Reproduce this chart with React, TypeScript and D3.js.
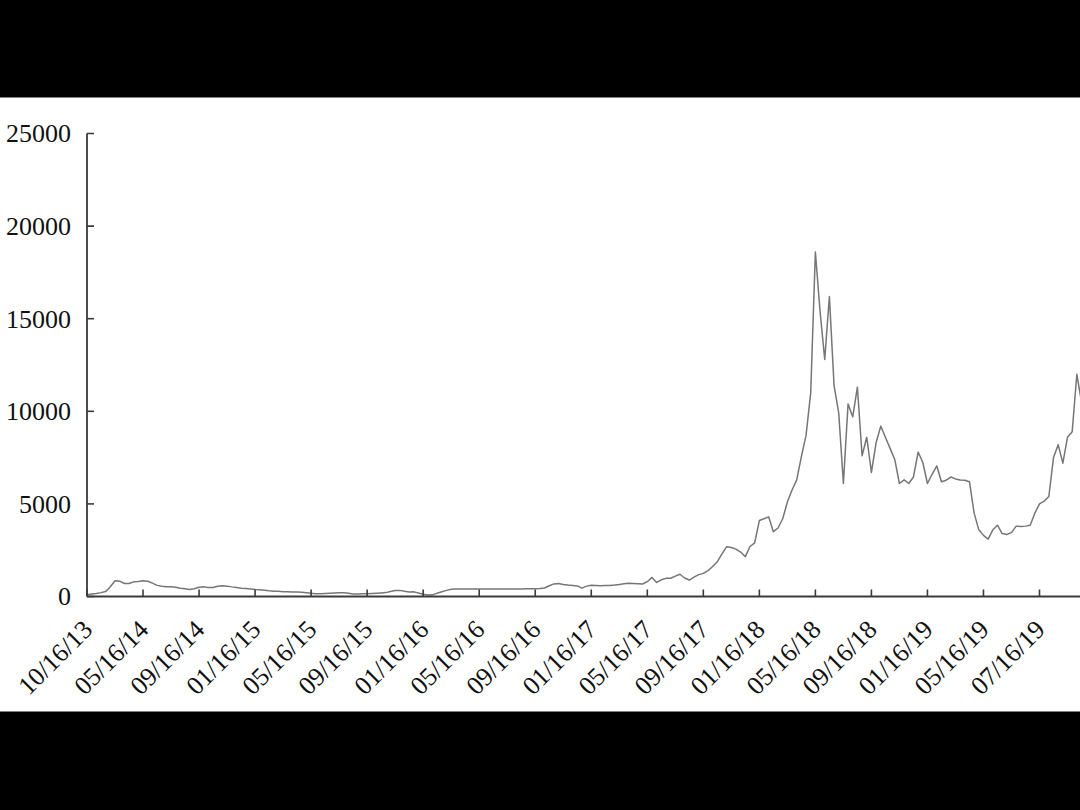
import React from "react";
import * as d3 from "d3";

const tickLabels: string[] = [
  "10/16/13", "05/16/14", "09/16/14", "01/16/15", "05/16/15", "09/16/15",
  "01/16/16", "05/16/16", "09/16/16", "01/16/17", "05/16/17", "09/16/17",
  "01/16/18", "05/16/18", "09/16/18", "01/16/19", "05/16/19", "07/16/19",
];
const pointsPerTick = 12;
const yTicks: number[] = [0, 5000, 10000, 15000, 20000, 25000];

const prices: number[] = [
  // 10/16/13 ->
  100, 130, 160, 210, 270, 530, 850, 830, 700, 700, 790, 810,
  // 05/16/14 ->
  850, 820, 720, 600, 550, 530, 520, 500, 450, 420, 380, 420,
  // 09/16/14 ->
  500, 520, 480, 490, 550, 580, 560, 520, 490, 450, 430, 410,
  // 01/16/15 ->
  380, 360, 340, 310, 290, 280, 260, 250, 245, 240, 225, 200,
  // 05/16/15 ->
  170, 155, 150, 160, 175, 190, 200, 205, 170, 135, 140, 145,
  // 09/16/15 ->
  150, 165, 180, 195, 210, 270, 320, 330, 280, 240, 250, 190,
  // 01/16/16 ->
  120, 85, 90, 180, 260, 330, 390, 400, 405, 405, 408, 405,
  // 05/16/16 ->
  405, 410, 405, 405, 408, 405, 405, 410, 408, 410, 412, 415,
  // 09/16/16 ->
  420, 430, 460, 580, 680, 700, 650, 620, 600, 570, 450, 560,
  // 01/16/17 ->
  610, 600, 580, 590, 600, 620, 650, 690, 710, 700, 690, 675,
  // 05/16/17 ->
  800, 1030, 760, 900, 980, 985, 1100, 1200, 1000, 890, 1050, 1180,
  // 09/16/17 ->
  1250, 1400, 1620, 1880, 2300, 2690, 2650, 2560, 2400, 2150, 2700, 2900,
  // 01/16/18 ->
  4100, 4200, 4300, 3500, 3700, 4200, 5100, 5750, 6300, 7550, 8700, 11000,
  // 05/16/18 ->
  18600, 15400, 12800, 16200, 11400, 9900, 6100, 10400, 9700, 11300, 7600, 8600,
  // 09/16/18 ->
  6700, 8300, 9200, 8600, 8000, 7400, 6100, 6300, 6100, 6450, 7800, 7250,
  // 01/16/19 ->
  6100, 6600, 7050, 6200, 6280, 6450, 6350, 6290, 6280, 6200, 4500, 3600,
  // 05/16/19 ->
  3300, 3100, 3600, 3850, 3400, 3350, 3450, 3800, 3780, 3800, 3850, 4500,
  // 07/16/19 ->
  5000, 5150, 5400, 7500, 8200, 7200, 8600, 8900, 12000, 10500,
];

const W = 1080;
const H = 810;
const plotTop = 97.5;
const plotBottom = 711.5;

export default function App() {
  const lastTickIdx = (tickLabels.length - 1) * pointsPerTick;
  const x = d3.scaleLinear().domain([0, lastTickIdx]).range([87, 1039.5]);
  const y = d3.scaleLinear().domain([0, 25000]).range([596.5, 133.5]);

  const line = d3
    .line<number>()
    .x((_, i) => x(i))
    .y((d) => y(d))
    .curve(d3.curveLinear);

  const font = "'Liberation Serif', 'Times New Roman', 'DejaVu Serif', serif";
  const axisColor = "#3a3a3a";

  return (
    <div style={{ position: "fixed", left: 0, top: 0, width: W, height: H }}>
      <svg width={W} height={H} style={{ display: "block" }}>
        <defs>
          <clipPath id="plotclip">
            <rect x={0} y={plotTop} width={W} height={plotBottom - plotTop} />
          </clipPath>
        </defs>
        <rect x={0} y={0} width={W} height={H} fill="#000" />
        <rect x={0} y={plotTop} width={W} height={plotBottom - plotTop} fill="#fff" />

        <g clipPath="url(#plotclip)">
          <path
            d={line(prices) || ""}
            fill="none"
            stroke="#767676"
            strokeWidth={1.5}
            strokeLinejoin="round"
          />

          {/* Y axis */}
          <line x1={x(0)} x2={x(0)} y1={y(25000)} y2={y(0)} stroke={axisColor} strokeWidth={1.8} />
          {yTicks.map((t) => (
            <g key={t}>
              <line x1={x(0)} x2={x(0) + 7} y1={y(t)} y2={y(t)} stroke={axisColor} strokeWidth={1.6} />
              <text
                x={71}
                y={y(t)}
                dy="0.34em"
                textAnchor="end"
                fontFamily={font}
                fontSize={26}
                fill="#111"
              >
                {t}
              </text>
            </g>
          ))}

          {/* X axis */}
          <line x1={x(0)} x2={W} y1={y(0)} y2={y(0)} stroke={axisColor} strokeWidth={1.8} />
          {tickLabels.map((lab, k) => {
            const tx = x(k * pointsPerTick);
            return (
              <g key={lab + k}>
                <line x1={tx} x2={tx} y1={y(0)} y2={y(0) - 7} stroke={axisColor} strokeWidth={1.6} />
                <text
                  transform={`translate(${tx + 7},${631}) rotate(-45)`}
                  textAnchor="end"
                  fontFamily={font}
                  fontSize={26}
                  fill="#111"
                >
                  {lab}
                </text>
              </g>
            );
          })}
        </g>
      </svg>
    </div>
  );
}
